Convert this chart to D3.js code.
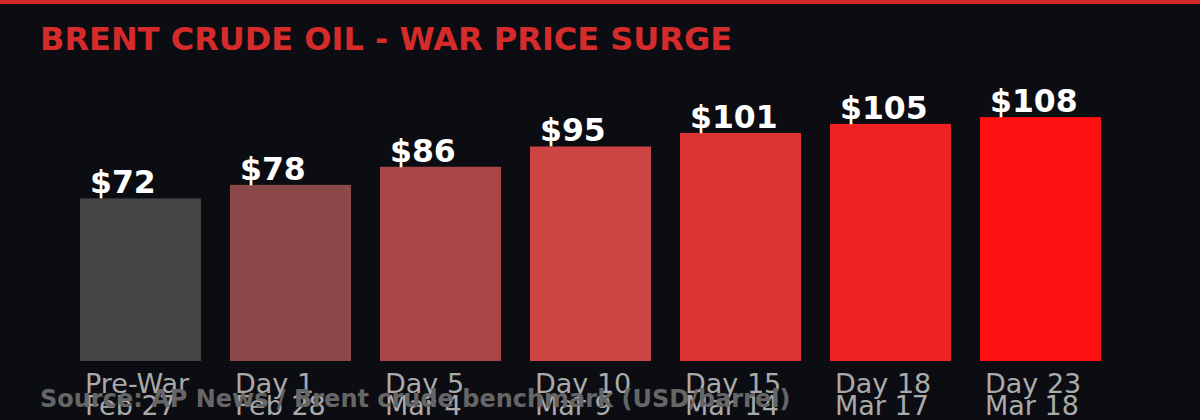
<!DOCTYPE html>
<html>
<head>
<meta charset="utf-8">
<script src="https://cdn.jsdelivr.net/npm/d3@7"></script>
<style>
  html, body { margin: 0; padding: 0; background: #0c0d12; }
  svg { display: block; }
</style>
</head>
<body>
<svg></svg>
<script>
var days = ["Pre-War", "Day 1", "Day 5", "Day 10", "Day 15", "Day 18", "Day 23"];
var dates = ["Feb 27", "Feb 28", "Mar 4", "Mar 9", "Mar 14", "Mar 17", "Mar 18"];
var prices = [72, 78, 86, 95, 101, 105, 108];
var colors = ["#444444", "#8b4848", "#ab4646", "#cc4444", "#dd3333", "#ee2222", "#ff1111"];

var W = 1200, H = 420;
var margin = {top: 90, left: 80, right: 99, bottom: 59};

var svg = d3.select("svg")
    .attr("width", W)
    .attr("height", H);

svg.append("rect")
    .attr("width", W).attr("height", H)
    .attr("fill", "#0c0d12");

svg.append("rect")
    .attr("width", W).attr("height", 4)
    .attr("fill", "#d62828");

svg.append("text")
    .attr("x", 40).attr("y", 50)
    .attr("fill", "#d62b2b")
    .attr("font-family", "DejaVu Sans")
    .attr("font-weight", "bold")
    .attr("font-size", 32)
    .text("BRENT CRUDE OIL - WAR PRICE SURGE");

var x = d3.scaleBand()
    .domain(days)
    .range([margin.left, W - margin.right])
    .paddingInner(29 / 150)
    .paddingOuter(0);

var y = d3.scaleLinear()
    .domain([0, 120])
    .range([H - margin.bottom, margin.top]);

var g = svg.append("g");

g.selectAll("rect.bar")
    .data(prices)
    .enter()
    .append("rect")
        .attr("class", "bar")
        .attr("x", function(d, i) { return x(days[i]); })
        .attr("y", function(d) { return y(d); })
        .attr("width", x.bandwidth())
        .attr("height", function(d) { return y(0) - y(d); })
        .attr("fill", function(d, i) { return colors[i]; });

g.selectAll("text.val")
    .data(prices)
    .enter()
    .append("text")
        .attr("class", "val")
        .attr("x", function(d, i) { return x(days[i]) + 10; })
        .attr("y", function(d) { return y(d) - 5; })
        .attr("fill", "#ffffff")
        .attr("font-family", "DejaVu Sans")
        .attr("font-weight", "bold")
        .attr("font-size", 31.5)
        .text(function(d) { return "$" + d; });

var cat = g.selectAll("text.cat")
    .data(days)
    .enter()
    .append("text")
        .attr("class", "cat")
        .attr("x", function(d) { return x(d) + 5; })
        .attr("y", 393)
        .attr("fill", "#aaaaaa")
        .attr("font-family", "DejaVu Sans")
        .attr("font-size", 27);

cat.append("tspan")
    .attr("x", function(d) { return x(d) + 5; })
    .text(function(d) { return d; });
cat.append("tspan")
    .attr("x", function(d) { return x(d) + 5; })
    .attr("dy", 22)
    .text(function(d, i) { return dates[i]; });

svg.append("text")
    .attr("x", 40).attr("y", 407)
    .attr("fill", "#666666")
    .attr("font-family", "DejaVu Sans")
    .attr("font-weight", "bold")
    .attr("font-size", 24)
    .text("Source: AP News / Brent crude benchmark (USD/barrel)");
</script>
</body>
</html>
